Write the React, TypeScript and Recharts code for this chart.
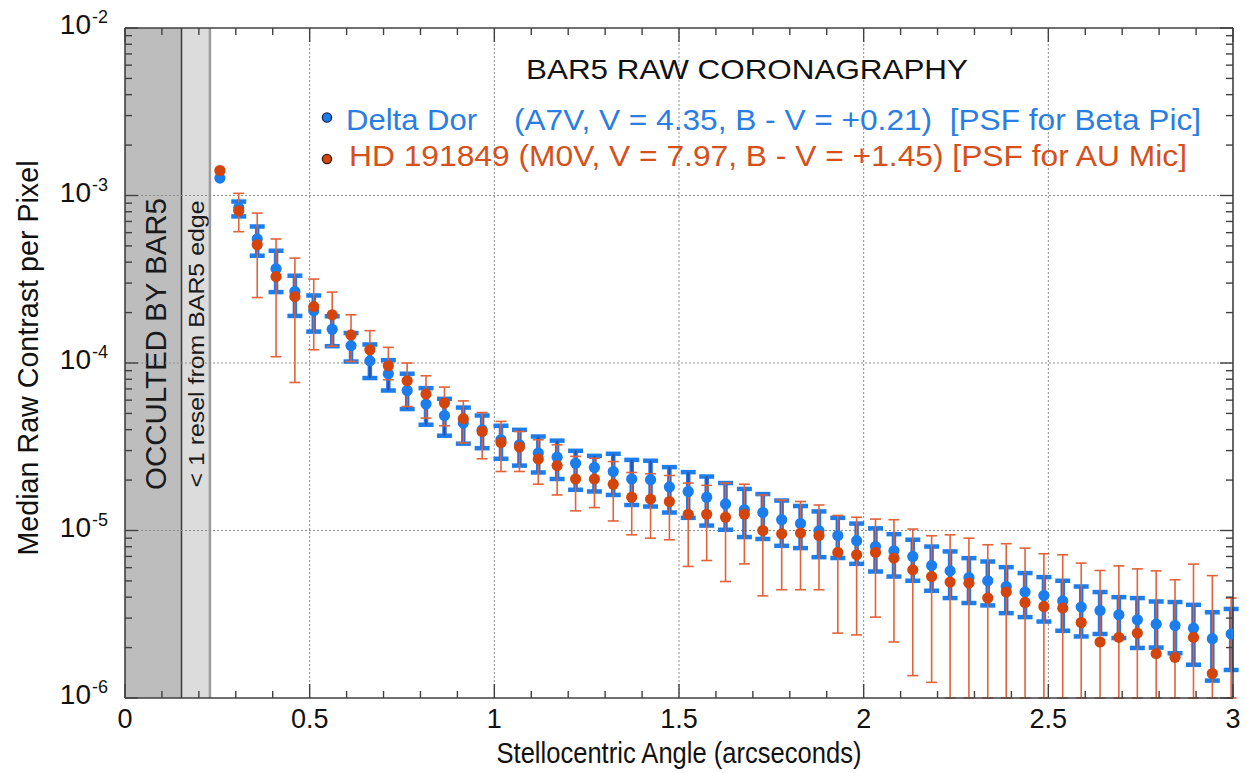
import React from 'react';
import {
  ScatterChart,
  Scatter,
  XAxis,
  YAxis,
  ErrorBar,
  ReferenceArea,
  ReferenceLine,
} from 'recharts';

// ---------- data ----------
const angleArcsec = [
  0.257, 0.308, 0.358, 0.409, 0.46, 0.511, 0.561, 0.612, 0.663, 0.713,
  0.764, 0.815, 0.865, 0.916, 0.967, 1.018, 1.068, 1.119, 1.17, 1.22,
  1.271, 1.322, 1.372, 1.423, 1.474, 1.525, 1.575, 1.626, 1.677, 1.727,
  1.778, 1.829, 1.879, 1.93, 1.981, 2.032, 2.082, 2.133, 2.184, 2.234,
  2.285, 2.336, 2.386, 2.437, 2.488, 2.539, 2.589, 2.64, 2.691, 2.741,
  2.792, 2.843, 2.893, 2.944, 2.995,
];

const deltaDorMedian = [
  1.27e-3, 8.45e-4, 5.5e-4, 3.65e-4, 2.67e-4, 2.05e-4, 1.59e-4, 1.27e-4, 1.03e-4, 8.63e-5,
  6.85e-5, 5.69e-5, 4.86e-5, 4.38e-5, 3.99e-5, 3.48e-5, 3.25e-5, 2.9e-5, 2.74e-5, 2.52e-5,
  2.38e-5, 2.25e-5, 2.03e-5, 2.01e-5, 1.82e-5, 1.71e-5, 1.58e-5, 1.44e-5, 1.33e-5, 1.28e-5,
  1.16e-5, 1.1e-5, 9.96e-6, 9.33e-6, 8.69e-6, 8.02e-6, 7.57e-6, 7.0e-6, 6.18e-6, 5.74e-6,
  5.24e-6, 5.01e-6, 4.63e-6, 4.29e-6, 4.09e-6, 3.8e-6, 3.49e-6, 3.33e-6, 3.14e-6, 2.93e-6,
  2.76e-6, 2.71e-6, 2.61e-6, 2.26e-6, 2.41e-6,
];
const deltaDorUpper = [
  null, 9.2e-4, 6.53e-4, 4.68e-4, 3.32e-4, 2.53e-4, 1.9e-4, 1.51e-4, 1.29e-4, 1.04e-4,
  8.63e-5, 7.08e-5, 6.11e-5, 5.42e-5, 4.86e-5, 4.22e-5, 3.99e-5, 3.64e-5, 3.44e-5, 2.99e-5,
  2.79e-5, 2.87e-5, 2.64e-5, 2.61e-5, 2.39e-5, 2.23e-5, 2.1e-5, 1.92e-5, 1.77e-5, 1.65e-5,
  1.51e-5, 1.4e-5, 1.3e-5, 1.19e-5, 1.1e-5, 1.03e-5, 9.51e-6, 8.81e-6, 8.02e-6, 7.5e-6,
  6.84e-6, 6.53e-6, 6.04e-6, 5.57e-6, 5.27e-6, 5.01e-6, 4.63e-6, 4.29e-6, 4.0e-6, 3.95e-6,
  3.77e-6, 3.74e-6, 3.6e-6, 3.25e-6, 3.4e-6,
];
const deltaDorLower = [
  null, 7.5e-4, 4.37e-4, 2.65e-4, 1.91e-4, 1.54e-4, 1.26e-4, 1.02e-4, 8.13e-5, 6.85e-5,
  5.31e-5, 4.28e-5, 3.68e-5, 3.3e-5, 3.1e-5, 2.68e-5, 2.44e-5, 2.22e-5, 2.03e-5, 1.75e-5,
  1.71e-5, 1.63e-5, 1.42e-5, 1.39e-5, 1.28e-5, 1.19e-5, 1.07e-5, 1.01e-5, 9.14e-6, 8.9e-6,
  8.1e-6, 7.85e-6, 6.93e-6, 6.85e-6, 6.32e-6, 5.69e-6, 5.31e-6, 5.01e-6, 4.37e-6, 3.95e-6,
  3.69e-6, 3.57e-6, 3.21e-6, 3.04e-6, 2.86e-6, 2.52e-6, 2.33e-6, 2.41e-6, 2.28e-6, 1.99e-6,
  2.0e-6, 1.85e-6, 1.58e-6, 1.27e-6, 1.47e-6,
];

const hdMedian = [
  1.41e-3, 8.1e-4, 5.08e-4, 3.28e-4, 2.49e-4, 2.17e-4, 1.94e-4, 1.47e-4, 1.2e-4, 9.62e-5,
  7.83e-5, 6.52e-5, 5.77e-5, 4.65e-5, 3.9e-5, 3.35e-5, 3.15e-5, 2.67e-5, 2.44e-5, 2.03e-5,
  2.03e-5, 1.89e-5, 1.58e-5, 1.54e-5, 1.49e-5, 1.25e-5, 1.25e-5, 1.2e-5, 1.25e-5, 1.0e-5,
  9.55e-6, 9.65e-6, 9.33e-6, 7.4e-6, 7.16e-6, 7.4e-6, 6.84e-6, 5.82e-6, 5.31e-6, 4.92e-6,
  4.85e-6, 3.95e-6, 4.29e-6, 3.72e-6, 3.52e-6, 3.44e-6, 2.82e-6, 2.16e-6, 2.3e-6, 2.44e-6,
  1.84e-6, 1.75e-6, 2.3e-6, 1.4e-6, 8.0e-7,
];
const hdUpper = [
  null, 1.03e-3, 7.85e-4, 5.5e-4, 4.23e-4, 3.17e-4, 2.65e-4, 1.94e-4, 1.56e-4, 1.24e-4,
  1.0e-4, 8.39e-5, 7.18e-5, 5.94e-5, 5.06e-5, 4.48e-5, 3.9e-5, 3.48e-5, 3.25e-5, 2.77e-5,
  2.7e-5, 2.58e-5, 2.22e-5, 2.18e-5, 2.13e-5, 1.92e-5, 1.86e-5, 1.92e-5, 1.89e-5, 1.63e-5,
  1.52e-5, 1.49e-5, 1.42e-5, 1.23e-5, 1.2e-5, 1.17e-5, 1.16e-5, 1.02e-5, 9.3e-6, 9.42e-6,
  9.0e-6, 8.22e-6, 8.34e-6, 7.85e-6, 7.26e-6, 7.16e-6, 6.39e-6, 5.77e-6, 6.15e-6, 5.9e-6,
  5.74e-6, 5.08e-6, 6.3e-6, 5.38e-6, 3.95e-6,
];
// lower bounds that run off the bottom of the plot are cut at the axis (1e-6)
const hdLower = [
  null, 6.08e-4, 2.46e-4, 1.09e-4, 7.65e-5, 1.2e-4, 1.26e-4, 1.02e-4, 1.0e-4, 7.94e-5,
  5.5e-5, 4.69e-5, 4.22e-5, 3.33e-5, 2.68e-5, 2.25e-5, 2.25e-5, 1.89e-5, 1.63e-5, 1.31e-5,
  1.37e-5, 1.14e-5, 9.42e-6, 9.0e-6, 8.8e-6, 6.1e-6, 6.62e-6, 4.96e-6, 6.32e-6, 4.07e-6,
  4.43e-6, 4.43e-6, 4.43e-6, 2.44e-6, 2.38e-6, 3.04e-6, 2.16e-6, 1.36e-6, 1.24e-6, 1.0e-6,
  1.0e-6, 1.0e-6, 1.0e-6, 1.0e-6, 1.0e-6, 1.0e-6, 1.0e-6, 1.0e-6, 1.0e-6, 1.0e-6,
  1.0e-6, 1.0e-6, 1.0e-6, 1.0e-6, 1.0e-6,
];

// axis ticks & labels
const xTickValues = [
  0, 0.1, 0.2, 0.3, 0.4, 0.5, 0.6, 0.7, 0.8, 0.9, 1, 1.1, 1.2, 1.3, 1.4, 1.5,
  1.6, 1.7, 1.8, 1.9, 2, 2.1, 2.2, 2.3, 2.4, 2.5, 2.6, 2.7, 2.8, 2.9, 3,
];
const xMajorTicks = [0, 0.5, 1, 1.5, 2, 2.5, 3];
const xMajorLabels = ['0', '0.5', '1', '1.5', '2', '2.5', '3'];
const yDecadeExponents = [-6, -5, -4, -3, -2];
const yMantissas = [1, 2, 3, 4, 5, 6, 7, 8, 9];
const yTickValues: number[] = [];
yDecadeExponents.forEach((e) => {
  yMantissas.forEach((m) => {
    if (e < -2 || m === 1) yTickValues.push(m * Math.pow(10, e));
  });
});
const xGridValues = [0.5, 1, 1.5, 2, 2.5];
const yGridValues = [1e-5, 1e-4, 1e-3];
const occultedEdge = 0.153; // BAR5 occulted region
const reselEdge = 0.23; // < 1 resel from BAR5 edge

const TITLE = 'BAR5 RAW CORONAGRAPHY';
const BLUE_NAME = 'Delta Dor';
const BLUE_DESC = '(A7V, V = 4.35, B - V = +0.21)  [PSF for Beta Pic]';
const RED_DESC = 'HD 191849 (M0V, V = 7.97, B - V = +1.45) [PSF for AU Mic]';
const X_TITLE = 'Stellocentric Angle (arcseconds)';
const Y_TITLE = 'Median Raw Contrast per Pixel';

// ---------- styles ----------
const FONT = "'Liberation Sans', Arial, Helvetica, sans-serif";
const BLUE = '#1c7ded';
const BLUE_TEXT = '#2a7ee3';
const NAVY = '#3b4a9e';
const RED = '#d4450e';
const RED_BAR = '#e2623a';
const RED_TEXT = '#d5501b';
const AXIS = '#404040';

const blueData = angleArcsec.map((x, i) => ({
  x,
  y: deltaDorMedian[i],
  err:
    deltaDorUpper[i] == null
      ? null
      : [deltaDorMedian[i] - (deltaDorLower[i] as number), (deltaDorUpper[i] as number) - deltaDorMedian[i]],
}));
const redData = angleArcsec.map((x, i) => ({
  x,
  y: hdMedian[i],
  err:
    hdUpper[i] == null
      ? null
      : [hdMedian[i] - (hdLower[i] as number), (hdUpper[i] as number) - hdMedian[i]],
}));

const isDecade = (v: number) => {
  const l = Math.log10(v);
  return Math.abs(l - Math.round(l)) < 1e-6;
};
const majorXIndex = (v: number) => xMajorTicks.findIndex((t) => Math.abs(t - v) < 1e-6);

const BottomTick = (props: any) => {
  const { x, y, payload } = props;
  const idx = majorXIndex(payload.value);
  const len = idx >= 0 ? 14 : 7;
  return (
    <g>
      <line x1={x} x2={x} y1={y} y2={y - len} stroke={AXIS} strokeWidth={1.4} />
      {idx >= 0 && (
        <text x={x} y={y + 30} textAnchor="middle" fontSize={27} fontFamily={FONT} fill="#111">
          {xMajorLabels[idx]}
        </text>
      )}
    </g>
  );
};
const TopTick = (props: any) => {
  const { x, y, payload } = props;
  const idx = majorXIndex(payload.value);
  const len = idx >= 0 ? 14 : 7;
  return <line x1={x} x2={x} y1={y} y2={y + len} stroke={AXIS} strokeWidth={1.4} />;
};
const LeftTick = (props: any) => {
  const { x, y, payload } = props;
  const v = payload.value;
  const major = isDecade(v);
  const len = major ? 13 : 7;
  const exp = Math.round(Math.log10(v));
  return (
    <g>
      <line x1={x} x2={x + len} y1={y} y2={y} stroke={AXIS} strokeWidth={1.4} />
      {major && (
        <g fontFamily={FONT} fill="#111">
          <text x={x - 34} y={y + 6} textAnchor="end" fontSize={28}>
            10
          </text>
          <text x={x - 33} y={y - 5} textAnchor="start" fontSize={18}>
            {String(exp)}
          </text>
        </g>
      )}
    </g>
  );
};
const RightTick = (props: any) => {
  const { x, y, payload } = props;
  const len = isDecade(payload.value) ? 13 : 7;
  return <line x1={x} x2={x - len} y1={y} y2={y} stroke={AXIS} strokeWidth={1.4} />;
};

const bandLabel = (text: string, size: number, dx: number, dy: number, length: number) => (p: any) => {
  const vb = p.viewBox || {};
  const cx = vb.x + vb.width / 2 + dx;
  const cy = vb.y + vb.height / 2 + dy;
  return (
    <text
      x={cx}
      y={cy}
      transform={`rotate(-90 ${cx} ${cy})`}
      textAnchor="middle"
      dominantBaseline="central"
      fontSize={size}
      fontFamily={FONT}
      fill="#1a1a1a"
      textLength={length}
      lengthAdjust="spacingAndGlyphs"
    >
      {text}
    </text>
  );
};

const BlueDot = (p: any) => <circle cx={p.cx} cy={p.cy} r={5.6} fill={BLUE} />;
const RedDot = (p: any) => <circle cx={p.cx} cy={p.cy} r={5.6} fill={RED} />;

export default function App() {
  return (
    <div style={{ position: 'fixed', left: 0, top: 0, width: 1247, height: 773, background: '#fff' }}>
      <ScatterChart width={1247} height={773} margin={{ top: 0, right: 0, bottom: 0, left: 0 }}>
        <XAxis
          xAxisId="bottom"
          type="number"
          dataKey="x"
          domain={[0, 3]}
          allowDataOverflow
          ticks={xTickValues}
          interval={0}
          tickSize={0}
          tickMargin={0}
          tickLine={false}
          tick={<BottomTick />}
          height={75}
          axisLine={{ stroke: AXIS, strokeWidth: 1.6 }}
        />
        <XAxis
          xAxisId="top"
          orientation="top"
          type="number"
          dataKey="x"
          domain={[0, 3]}
          allowDataOverflow
          ticks={xTickValues}
          interval={0}
          tickSize={0}
          tickMargin={0}
          tickLine={false}
          tick={<TopTick />}
          height={28}
          axisLine={{ stroke: AXIS, strokeWidth: 1.6 }}
        />
        <YAxis
          yAxisId="left"
          type="number"
          dataKey="y"
          scale="log"
          domain={[1e-6, 1e-2]}
          allowDataOverflow
          ticks={yTickValues}
          interval={0}
          tickSize={0}
          tickMargin={0}
          tickLine={false}
          tick={<LeftTick />}
          width={125}
          axisLine={{ stroke: AXIS, strokeWidth: 1.6 }}
        />
        <YAxis
          yAxisId="right"
          orientation="right"
          type="number"
          dataKey="y"
          scale="log"
          domain={[1e-6, 1e-2]}
          allowDataOverflow
          ticks={yTickValues}
          interval={0}
          tickSize={0}
          tickMargin={0}
          tickLine={false}
          tick={<RightTick />}
          width={14}
          axisLine={{ stroke: AXIS, strokeWidth: 1.6 }}
        />

        <ReferenceArea
          xAxisId="bottom"
          yAxisId="left"
          x1={0}
          x2={occultedEdge}
          y1={1e-6}
          y2={1e-2}
          fill="#bdbdbd"
          fillOpacity={1}
          stroke="none"
          ifOverflow="visible"
          label={bandLabel('OCCULTED BY BAR5', 29, 3, -19, 292)}
        />
        <ReferenceArea
          xAxisId="bottom"
          yAxisId="left"
          x1={occultedEdge}
          x2={reselEdge}
          y1={1e-6}
          y2={1e-2}
          fill="#dcdcdc"
          fillOpacity={1}
          stroke="none"
          ifOverflow="visible"
          label={bandLabel('< 1 resel from BAR5 edge', 22, 1, -19, 287)}
        />
        <ReferenceLine xAxisId="bottom" yAxisId="left" x={occultedEdge} stroke="#3a3a3a" strokeWidth={1.5} />
        <ReferenceLine xAxisId="bottom" yAxisId="left" x={reselEdge} stroke="#9c9c9c" strokeWidth={2.5} />
        {yGridValues.map((v) => (
          <ReferenceLine
            key={'gy' + v}
            xAxisId="bottom"
            yAxisId="left"
            y={v}
            stroke="#8c8c8c"
            strokeWidth={1}
            strokeDasharray="2 2"
          />
        ))}
        {xGridValues.map((v) => (
          <ReferenceLine
            key={'gx' + v}
            xAxisId="bottom"
            yAxisId="left"
            x={v}
            stroke="#8c8c8c"
            strokeWidth={1}
            strokeDasharray="2 2"
          />
        ))}

        <Scatter
          name="Delta Dor"
          data={blueData}
          xAxisId="bottom"
          yAxisId="left"
          dataKey="y"
          shape={<BlueDot />}
          isAnimationActive={false}
        >
          <ErrorBar dataKey="err" direction="y" stroke={BLUE} strokeWidth={4.5} width={7.5} isAnimationActive={false} />
          <ErrorBar dataKey="err" direction="y" stroke={NAVY} strokeWidth={2} width={0} isAnimationActive={false} />
        </Scatter>
        <Scatter
          name="HD 191849"
          data={redData}
          xAxisId="top"
          yAxisId="right"
          dataKey="y"
          shape={<RedDot />}
          isAnimationActive={false}
        >
          <ErrorBar dataKey="err" direction="y" stroke={RED_BAR} strokeWidth={1.6} width={5.5} isAnimationActive={false} />
        </Scatter>
      </ScatterChart>

      <svg
        width={1247}
        height={773}
        style={{ position: 'absolute', left: 0, top: 0, pointerEvents: 'none' }}
        fontFamily={FONT}
      >
        <text x={526} y={79} fontSize={28} fill="#111" textLength={442} lengthAdjust="spacingAndGlyphs">
          {TITLE}
        </text>
        <circle cx={327} cy={117.5} r={4.6} fill={BLUE} stroke="#1d2450" strokeWidth={1.3} />
        <text x={346} y={129.5} fontSize={29} fill={BLUE_TEXT} textLength={131} lengthAdjust="spacingAndGlyphs">
          {BLUE_NAME}
        </text>
        <text
          x={514}
          y={129.5}
          fontSize={29}
          fill={BLUE_TEXT}
          textLength={687}
          lengthAdjust="spacingAndGlyphs"
          style={{ whiteSpace: 'pre' }}
        >
          {BLUE_DESC}
        </text>
        <circle cx={327} cy={159} r={4.6} fill={RED} stroke="#3a1a10" strokeWidth={1.3} />
        <text x={349} y={166} fontSize={29} fill={RED_TEXT} textLength={838} lengthAdjust="spacingAndGlyphs">
          {RED_DESC}
        </text>
        <text
          x={679}
          y={763}
          textAnchor="middle"
          fontSize={30}
          fill="#111"
          textLength={365}
          lengthAdjust="spacingAndGlyphs"
        >
          {X_TITLE}
        </text>
        <text
          transform="translate(38,358) rotate(-90)"
          textAnchor="middle"
          fontSize={30}
          fill="#111"
          textLength={395}
          lengthAdjust="spacingAndGlyphs"
        >
          {Y_TITLE}
        </text>
      </svg>
    </div>
  );
}
